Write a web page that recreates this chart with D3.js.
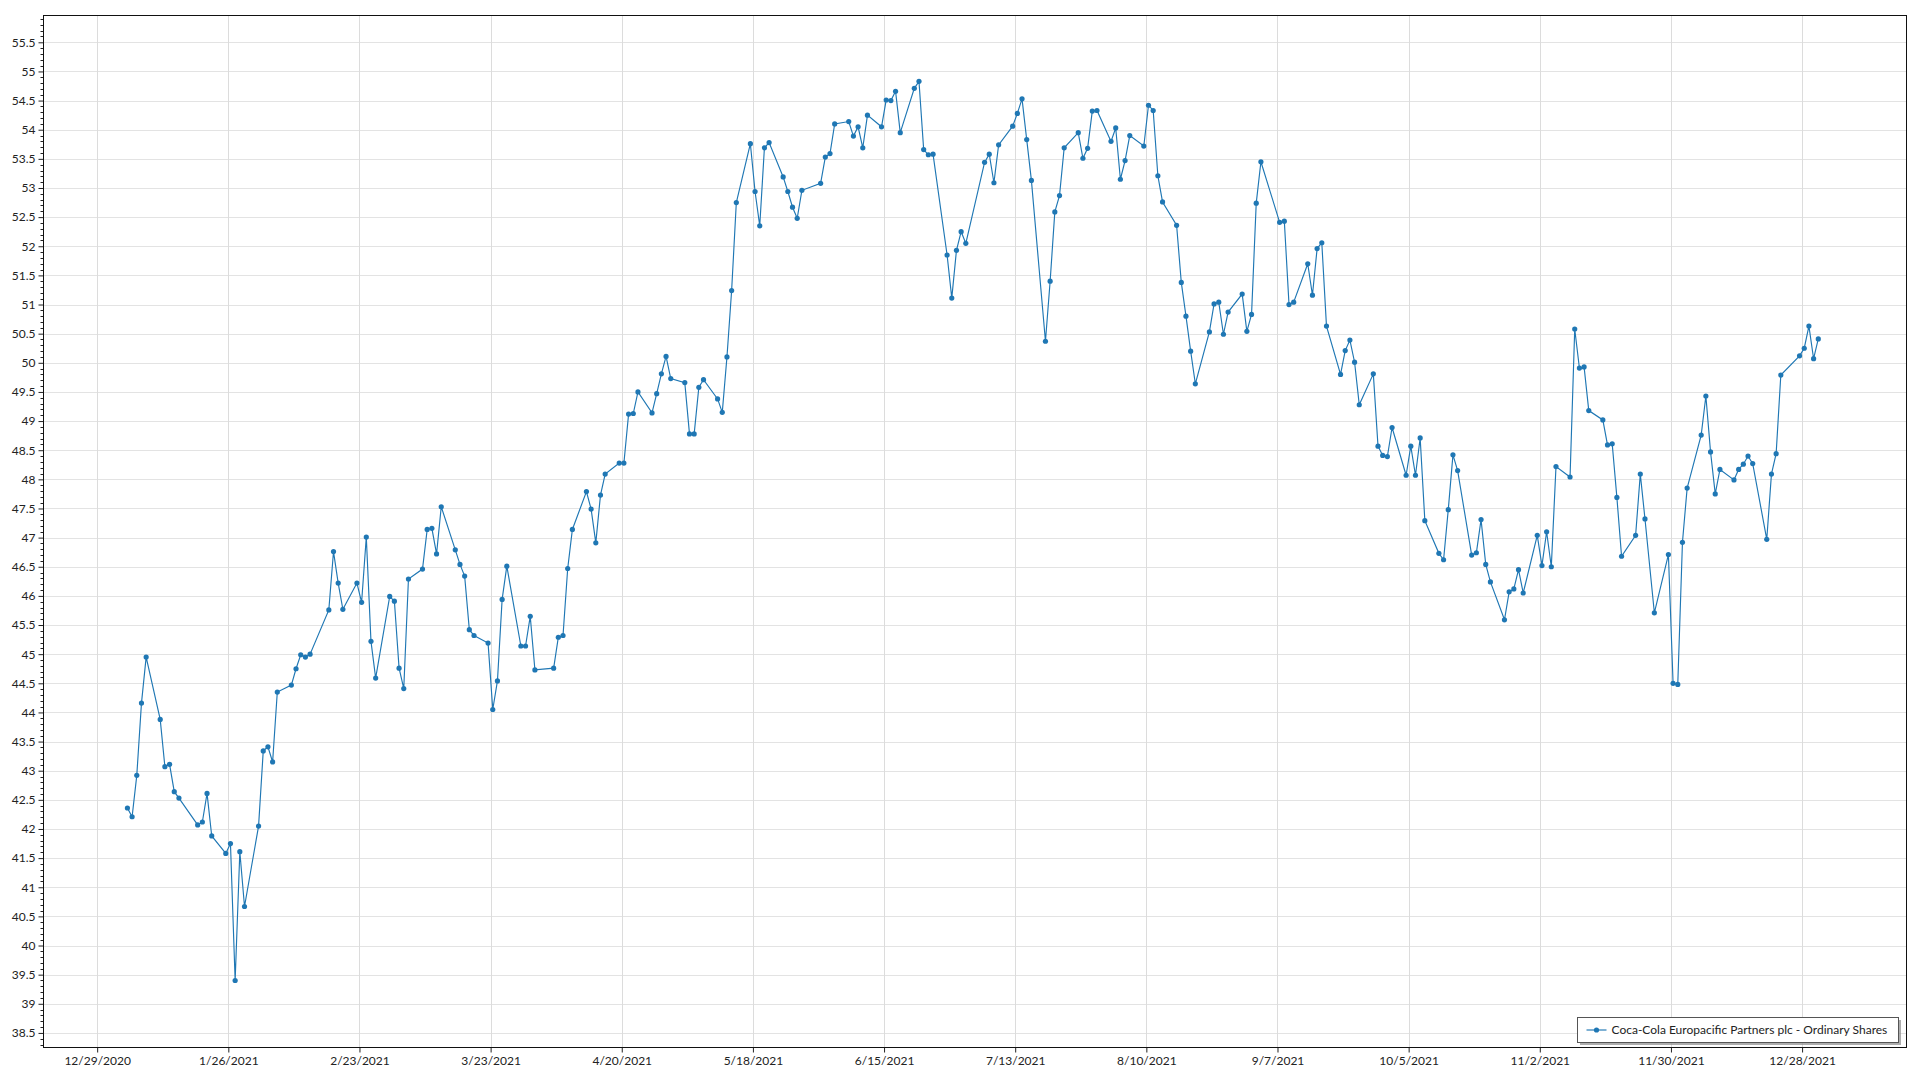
<!DOCTYPE html>
<html><head><meta charset="utf-8">
<script src="https://cdn.jsdelivr.net/npm/d3@7"></script>
<style>
html,body{margin:0;padding:0;background:#fff;}
svg{display:block;font-family:"Segoe UI",Lato,"Noto Sans",sans-serif;}
</style>
</head><body>
<svg id="chart" width="1920" height="1080"></svg>
<script>
// ---- data (2021 trading days, month-day) ----
const tradingDays = [
"01-04","01-05","01-06","01-07","01-08","01-11","01-12","01-13","01-14","01-15","01-19","01-20","01-21","01-22","01-25","01-26","01-27","01-28","01-29",
"02-01","02-02","02-03","02-04","02-05","02-08","02-09","02-10","02-11","02-12","02-16","02-17","02-18","02-19","02-22","02-23","02-24","02-25","02-26",
"03-01","03-02","03-03","03-04","03-05","03-08","03-09","03-10","03-11","03-12","03-15","03-16","03-17","03-18","03-19","03-22","03-23","03-24","03-25","03-26","03-29","03-30","03-31",
"04-01","04-05","04-06","04-07","04-08","04-09","04-12","04-13","04-14","04-15","04-16","04-19","04-20","04-21","04-22","04-23","04-26","04-27","04-28","04-29","04-30",
"05-03","05-04","05-05","05-06","05-07","05-10","05-11","05-12","05-13","05-14","05-17","05-18","05-19","05-20","05-21","05-24","05-25","05-26","05-27","05-28",
"06-01","06-02","06-03","06-04","06-07","06-08","06-09","06-10","06-11","06-14","06-15","06-16","06-17","06-18","06-21","06-22","06-23","06-24","06-25","06-28","06-29","06-30",
"07-01","07-02","07-06","07-07","07-08","07-09","07-12","07-13","07-14","07-15","07-16","07-19","07-20","07-21","07-22","07-23","07-26","07-27","07-28","07-29","07-30",
"08-02","08-03","08-04","08-05","08-06","08-09","08-10","08-11","08-12","08-13","08-16","08-17","08-18","08-19","08-20","08-23","08-24","08-25","08-26","08-27","08-30","08-31",
"09-01","09-02","09-03","09-07","09-08","09-09","09-10","09-13","09-14","09-15","09-16","09-17","09-20","09-21","09-22","09-23","09-24","09-27","09-28","09-29","09-30",
"10-01","10-04","10-05","10-06","10-07","10-08","10-11","10-12","10-13","10-14","10-15","10-18","10-19","10-20","10-21","10-22","10-25","10-26","10-27","10-28","10-29",
"11-01","11-02","11-03","11-04","11-05","11-08","11-09","11-10","11-11","11-12","11-15","11-16","11-17","11-18","11-19","11-22","11-23","11-24","11-26","11-29","11-30",
"12-01","12-02","12-03","12-06","12-07","12-08","12-09","12-10","12-13","12-14","12-15","12-16","12-17","12-20","12-21","12-22","12-23","12-27","12-28","12-29","12-30","12-31"
];
const closePrices = [
42.36,42.21,42.92,44.16,44.95,43.88,43.07,43.11,42.64,42.53,42.07,42.12,42.61,41.88,41.58,41.75,39.40,41.61,40.67,
42.05,43.34,43.41,43.15,44.35,44.47,44.75,44.99,44.95,45.00,45.76,46.76,46.22,45.77,46.22,45.89,47.01,45.22,44.59,
45.99,45.91,44.76,44.41,46.29,46.46,47.14,47.16,46.72,47.53,46.79,46.54,46.34,45.42,45.32,45.19,44.05,44.54,45.94,46.51,45.14,45.14,45.65,
44.73,44.76,45.29,45.32,46.47,47.14,47.79,47.49,46.91,47.73,48.09,48.28,48.28,49.12,49.13,49.50,49.14,49.47,49.81,50.11,49.73,
49.66,48.78,48.78,49.58,49.71,49.38,49.15,50.10,51.24,52.75,53.76,52.94,52.35,53.69,53.78,53.19,52.94,52.67,52.48,52.96,
53.08,53.53,53.59,54.10,54.14,53.89,54.05,53.69,54.25,54.05,54.51,54.50,54.66,53.95,54.71,54.83,53.66,53.57,53.58,51.85,51.11,51.93,
52.25,52.05,53.44,53.58,53.09,53.74,54.06,54.28,54.53,53.83,53.13,50.37,51.40,52.59,52.87,53.69,53.95,53.51,53.68,54.32,54.33,
53.80,54.03,53.15,53.47,53.90,53.72,54.42,54.33,53.21,52.76,52.36,51.38,50.80,50.20,49.64,50.53,51.01,51.04,50.49,50.87,51.18,50.54,
50.83,52.74,53.45,52.41,52.43,51.00,51.04,51.70,51.16,51.96,52.06,50.63,49.80,50.21,50.39,50.01,49.28,49.81,48.57,48.41,48.39,
48.89,48.07,48.57,48.07,48.71,47.29,46.73,46.62,47.48,48.42,48.15,46.70,46.74,47.31,46.54,46.24,45.59,46.07,46.12,46.45,46.05,
47.04,46.52,47.10,46.50,48.22,48.04,50.58,49.91,49.93,49.18,49.02,48.59,48.61,47.69,46.68,47.04,48.09,47.32,45.71,46.71,44.50,
44.48,46.92,47.85,48.76,49.43,48.47,47.75,48.17,47.99,48.17,48.26,48.40,48.27,46.97,48.09,48.44,49.79,50.12,50.25,50.63,50.07,50.41
];
const xTickLabels = ["12/29/2020","1/26/2021","2/23/2021","3/23/2021","4/20/2021","5/18/2021","6/15/2021","7/13/2021","8/10/2021","9/7/2021","10/5/2021","11/2/2021","11/30/2021","12/28/2021"];
const yTickLabels = ["38.5","39","39.5","40","40.5","41","41.5","42","42.5","43","43.5","44","44.5","45","45.5","46","46.5","47","47.5","48","48.5","49","49.5","50","50.5","51","51.5","52","52.5","53","53.5","54","54.5","55","55.5"];
const seriesName = "Coca-Cola Europacific Partners plc - Ordinary Shares";

// ---- layout ----
const L = 43.5, T = 15.5, R = 1906.5, B = 1047.5;
const svg = d3.select("#chart");
const parseDay = d3.timeParse("%Y-%m-%d");
const parseTick = d3.timeParse("%m/%d/%Y");
const data = tradingDays.map((d, i) => ({date: d3.timeHour.offset(parseDay("2021-" + d), 11), value: closePrices[i]}));

const x = d3.scaleTime().domain([new Date(2020, 11, 17, 13), new Date(2022, 0, 19, 7)]).range([L, R]);
const y = d3.scaleLinear().domain([38.25, 55.96]).range([B, T]);

const xTicks = xTickLabels.map(parseTick);
const yTicks = yTickLabels.map(Number);

// gridlines
const grid = svg.append("g");
grid.selectAll("line.h").data(yTicks).join("line")
  .attr("x1", L).attr("x2", R)
  .attr("y1", d => Math.round(y(d)) + 0.5).attr("y2", d => Math.round(y(d)) + 0.5)
  .attr("stroke", "#e3e3e3").attr("stroke-width", 1);
grid.selectAll("line.v").data(xTicks).join("line")
  .attr("y1", T).attr("y2", B)
  .attr("x1", d => Math.round(x(d)) + 0.5).attr("x2", d => Math.round(x(d)) + 0.5)
  .attr("stroke", "#dcdcdc").attr("stroke-width", 1);

// series
const color = "#1f77b4";
svg.append("path").datum(data)
  .attr("fill", "none").attr("stroke", color).attr("stroke-width", 1.15)
  .attr("d", d3.line().x(d => x(d.date)).y(d => y(d.value)));
svg.append("g").selectAll("circle").data(data).join("circle")
  .attr("cx", d => x(d.date)).attr("cy", d => y(d.value)).attr("r", 2.6)
  .attr("fill", color);

// axes
const yAxis = d3.axisLeft(y).tickValues(yTicks).tickFormat((d, i) => yTickLabels[i]).tickSize(5).tickPadding(3);
const gy = svg.append("g").attr("transform", `translate(${L},0)`).call(yAxis);
gy.select(".domain").remove();
gy.selectAll("text").attr("font-size", 12).attr("fill", "#222").attr("font-family", "'Segoe UI',Lato,'Noto Sans',sans-serif");
gy.selectAll("line").attr("stroke", "#222");
// minor ticks
const minor = d3.range(383, 560, 1).map(v => v / 10).filter(v => v >= 38.25 && v <= 55.96 && Math.abs(v * 2 - Math.round(v * 2)) > 1e-6);
svg.append("g").selectAll("line").data(minor).join("line")
  .attr("x1", L - 3).attr("x2", L)
  .attr("y1", d => Math.round(y(d)) + 0.5).attr("y2", d => Math.round(y(d)) + 0.5)
  .attr("stroke", "#222");

const xAxis = d3.axisBottom(x).tickValues(xTicks).tickFormat((d, i) => xTickLabels[i]).tickSize(5).tickPadding(4);
const gx = svg.append("g").attr("transform", `translate(0,${B})`).call(xAxis);
gx.select(".domain").remove();
gx.selectAll("text").attr("font-size", 12).attr("fill", "#222").attr("font-family", "'Segoe UI',Lato,'Noto Sans',sans-serif");
gx.selectAll("line").attr("stroke", "#222");

// frame
svg.append("rect").attr("x", L).attr("y", T).attr("width", R - L).attr("height", B - T)
  .attr("fill", "none").attr("stroke", "#111").attr("stroke-width", 1);

// legend
const lg = svg.append("g").attr("transform", "translate(1577.5,1017.5)");
lg.append("rect").attr("x", 2.5).attr("y", 2.5).attr("width", 321).attr("height", 25).attr("fill", "#8a8a8a").attr("opacity", 0.7);
lg.append("rect").attr("width", 321).attr("height", 25).attr("fill", "#fff").attr("stroke", "#555").attr("stroke-width", 1);
lg.append("line").attr("x1", 9).attr("x2", 29).attr("y1", 12.5).attr("y2", 12.5).attr("stroke", color).attr("stroke-width", 1.15);
lg.append("circle").attr("cx", 19).attr("cy", 12.5).attr("r", 2.6).attr("fill", color);
lg.append("text").attr("x", 34).attr("y", 12.5).attr("dy", "0.35em").attr("font-size", 12).attr("fill", "#222").text(seriesName);
</script>
</body></html>
